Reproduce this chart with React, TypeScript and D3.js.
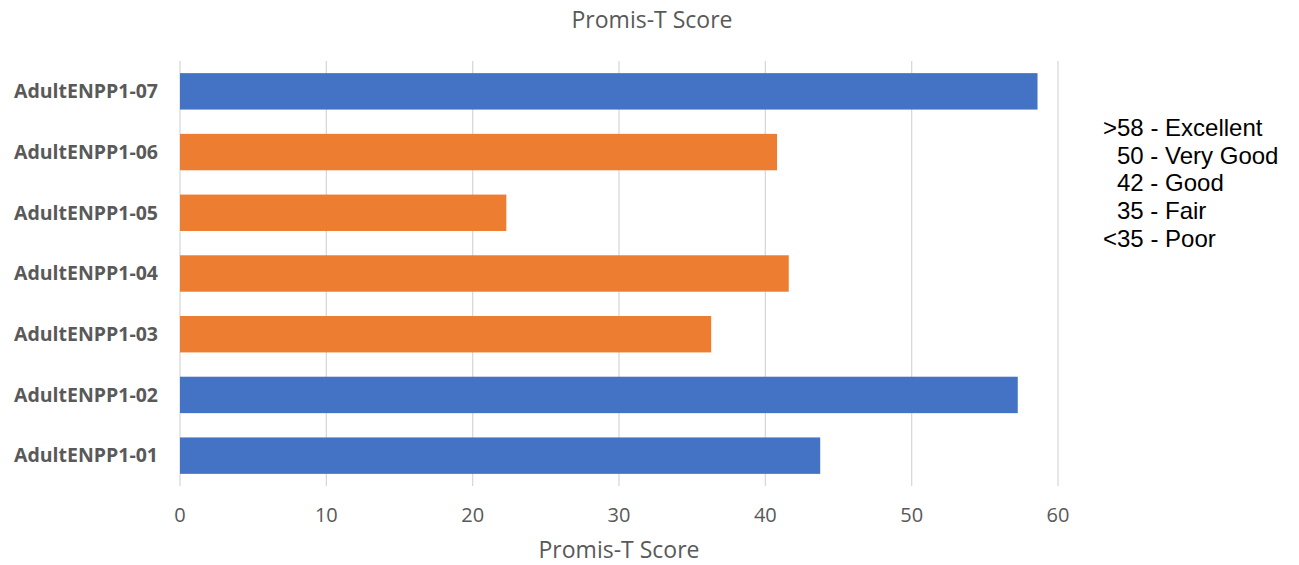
import React from "react";
import * as d3 from "d3";

const categories = ["AdultENPP1-07", "AdultENPP1-06", "AdultENPP1-05", "AdultENPP1-04", "AdultENPP1-03", "AdultENPP1-02", "AdultENPP1-01"];
const scores = [58.6, 40.8, 22.3, 41.6, 36.3, 57.25, 43.75];
const groups = ["blue", "orange", "orange", "orange", "orange", "blue", "blue"];
const xTicks = [0, 10, 20, 30, 40, 50, 60];
const legendLines = [">58 - Excellent", "50 - Very Good", "42 - Good", "35 - Fair", "<35 - Poor"];
const legendIndent = [false, true, true, true, false];

const W = 1299;
const H = 565;
const colors: Record<string, string> = { blue: "#4472C4", orange: "#ED7D31" };

export default function App() {
  const x = d3.scaleLinear().domain([0, 60]).range([180, 1058]);
  const y = d3.scaleBand<string>().domain(categories).range([61, 486]).paddingInner(0.4).paddingOuter(0.2);
  const gray = "#595959";
  return (
    <svg width={W} height={H} style={{ position: "absolute", left: 0, top: 0, background: "#fff" }}>
      <text x={652} y={28} textAnchor="middle" fontFamily="Open Sans" fontSize={23} fill={gray}>Promis-T Score</text>
      {xTicks.map((t) => (
        <line key={"g" + t} x1={x(t)} x2={x(t)} y1={61} y2={486} stroke="#d9d9d9" strokeWidth={1.3} />
      ))}
      {categories.map((c, i) => (
        <rect key={c} x={x(0)} y={y(c)!} width={x(scores[i]) - x(0)} height={y.bandwidth()} fill={colors[groups[i]]} />
      ))}
      {categories.map((c) => (
        <text key={"l" + c} x={158} y={y(c)! + y.bandwidth() / 2} dy="0.35em" textAnchor="end" fontFamily="Open Sans" fontWeight="bold" fontSize={19.5} fill={gray}>{c}</text>
      ))}
      {xTicks.map((t) => (
        <text key={"t" + t} x={x(t)} y={522} textAnchor="middle" fontFamily="Open Sans" fontSize={20} fill={gray}>{t}</text>
      ))}
      <text x={619} y={558} textAnchor="middle" fontFamily="Open Sans" fontSize={23} fill={gray}>Promis-T Score</text>
      {legendLines.map((l, i) => (
        <text key={"lg" + i} x={legendIndent[i] ? 1117 : 1103} y={136 + i * 27.7} fontFamily="Liberation Sans" fontSize={24} fill="#000">{l}</text>
      ))}
    </svg>
  );
}
